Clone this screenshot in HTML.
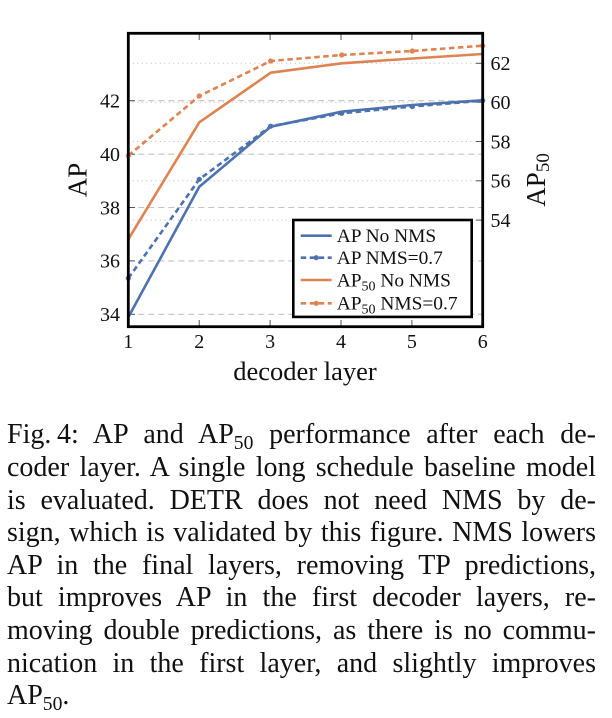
<!DOCTYPE html>
<html>
<head>
<meta charset="utf-8">
<style>
html,body{margin:0;padding:0;background:#fff;}
body{width:612px;height:718px;position:relative;overflow:hidden;font-family:"Liberation Serif",serif;color:#111;}
svg{position:absolute;left:0;top:0;}
.cap{position:absolute;left:7px;width:589px;font-size:28px;line-height:32.6px;height:32.6px;text-align:justify;text-align-last:justify;white-space:normal;}
.cap.last{text-align:left;text-align-last:left;}
.sub{font-size:0.7em;position:relative;top:0.28em;line-height:0;}
</style>
</head>
<body>
<svg width="612" height="400" viewBox="0 0 612 400" xmlns="http://www.w3.org/2000/svg" font-family="Liberation Serif, serif">
  <!-- grid: dashed at left ticks -->
  <g stroke="#c4c4c4" stroke-width="1.1" stroke-dasharray="6 4" fill="none">
    <line x1="128.3" y1="100.7" x2="482.7" y2="100.7"/>
    <line x1="128.3" y1="154.2" x2="482.7" y2="154.2"/>
    <line x1="128.3" y1="207.5" x2="482.7" y2="207.5"/>
    <line x1="128.3" y1="260.9" x2="482.7" y2="260.9"/>
    <line x1="128.3" y1="314.3" x2="482.7" y2="314.3"/>
  </g>
  <!-- grid: dotted at right ticks -->
  <g stroke="#bdbdbd" stroke-width="1" stroke-dasharray="1 3.5" fill="none">
    <line x1="128.3" y1="63.3" x2="482.7" y2="63.3"/>
    <line x1="128.3" y1="102.2" x2="482.7" y2="102.2"/>
    <line x1="128.3" y1="141.5" x2="482.7" y2="141.5"/>
    <line x1="128.3" y1="180.8" x2="482.7" y2="180.8"/>
    <line x1="128.3" y1="220.1" x2="482.7" y2="220.1"/>
  </g>
  <!-- ticks -->
  <g stroke="#555" stroke-width="1" fill="none">
    <line x1="199.2" y1="33.3" x2="199.2" y2="40"/>
    <line x1="270.1" y1="33.3" x2="270.1" y2="40"/>
    <line x1="341" y1="33.3" x2="341" y2="40"/>
    <line x1="411.9" y1="33.3" x2="411.9" y2="40"/>
    <line x1="199.2" y1="326.7" x2="199.2" y2="320"/>
    <line x1="270.1" y1="326.7" x2="270.1" y2="320"/>
    <line x1="341" y1="326.7" x2="341" y2="320"/>
    <line x1="411.9" y1="326.7" x2="411.9" y2="320"/>
    <line x1="128.3" y1="100.7" x2="135" y2="100.7"/>
    <line x1="128.3" y1="154.2" x2="135" y2="154.2"/>
    <line x1="128.3" y1="207.5" x2="135" y2="207.5"/>
    <line x1="128.3" y1="260.9" x2="135" y2="260.9"/>
    <line x1="128.3" y1="314.3" x2="135" y2="314.3"/>
    <line x1="482.7" y1="63.3" x2="476" y2="63.3"/>
    <line x1="482.7" y1="102.2" x2="476" y2="102.2"/>
    <line x1="482.7" y1="141.5" x2="476" y2="141.5"/>
    <line x1="482.7" y1="180.8" x2="476" y2="180.8"/>
    <line x1="482.7" y1="220.1" x2="476" y2="220.1"/>
  </g>
  <!-- series -->
  <g fill="none" stroke-width="2.6" stroke-linejoin="round">
    <polyline stroke="#4c72b0" points="128.3,317.3 199.3,186.7 270.7,126.7 341.7,111.7 412.3,105 482.7,100.3"/>
    <polyline stroke="#4c72b0" stroke-dasharray="5.5 3.5" points="128.3,278.3 199.3,179.3 270.7,126.2 341.7,113.3 412.3,106.5 482.7,100.6"/>
    <polyline stroke="#dd8452" points="128.3,239.3 199.3,122.3 270.7,72.7 341.7,63.3 412.3,58.5 482.7,54"/>
    <polyline stroke="#dd8452" stroke-dasharray="5.5 3.5" points="128.3,155.7 199.3,96 270.7,61 341.7,55 412.3,51 482.7,45.7"/>
  </g>
  <g fill="#4c72b0">
    <circle cx="128.3" cy="278.3" r="2.6"/><circle cx="199.3" cy="179.3" r="2.6"/><circle cx="270.7" cy="126.2" r="2.6"/>
    <circle cx="341.7" cy="113.3" r="2.6"/><circle cx="412.3" cy="106.5" r="2.6"/><circle cx="482.7" cy="100.6" r="2.6"/>
  </g>
  <g fill="#dd8452">
    <circle cx="128.3" cy="155.7" r="2.6"/><circle cx="199.3" cy="96" r="2.6"/><circle cx="270.7" cy="61" r="2.6"/>
    <circle cx="341.7" cy="55" r="2.6"/><circle cx="412.3" cy="51" r="2.6"/><circle cx="482.7" cy="45.7" r="2.6"/>
  </g>
  <!-- frame -->
  <rect x="128.3" y="33.3" width="354.4" height="293.4" fill="none" stroke="#000" stroke-width="2.8"/>
  <!-- left tick labels -->
  <g font-size="20" fill="#111" text-anchor="end">
    <text x="120" y="107.5">42</text>
    <text x="120" y="161">40</text>
    <text x="120" y="214.3">38</text>
    <text x="120" y="267.7">36</text>
    <text x="120" y="321.1">34</text>
  </g>
  <!-- right tick labels -->
  <g font-size="20" fill="#111" text-anchor="start">
    <text x="490.5" y="70.1">62</text>
    <text x="490.5" y="109">60</text>
    <text x="490.5" y="148.3">58</text>
    <text x="490.5" y="187.6">56</text>
    <text x="490.5" y="226.9">54</text>
  </g>
  <!-- x tick labels -->
  <g font-size="20" fill="#111" text-anchor="middle">
    <text x="128.3" y="348">1</text>
    <text x="199.2" y="348">2</text>
    <text x="270.1" y="348">3</text>
    <text x="341" y="348">4</text>
    <text x="411.9" y="348">5</text>
    <text x="482.7" y="348">6</text>
  </g>
  <!-- axis labels -->
  <text x="305" y="380" font-size="26.5" text-anchor="middle" fill="#111">decoder layer</text>
  <text transform="translate(86.7,180) rotate(-90)" font-size="27" text-anchor="middle" fill="#111">AP</text>
  <text transform="translate(545,206.7) rotate(-90)" font-size="27" fill="#111">AP<tspan font-size="19" dy="4">50</tspan></text>
  <!-- legend -->
  <rect x="293.3" y="220" width="178.4" height="96.9" fill="#fff" stroke="#000" stroke-width="2.6"/>
  <g stroke-width="2.6">
    <line x1="300.7" y1="235.7" x2="331.7" y2="235.7" stroke="#4c72b0"/>
    <line x1="300.7" y1="257.7" x2="331.7" y2="257.7" stroke="#4c72b0" stroke-dasharray="5.5 3.5"/>
    <line x1="300.7" y1="280" x2="331.7" y2="280" stroke="#dd8452"/>
    <line x1="300.7" y1="303.3" x2="331.7" y2="303.3" stroke="#dd8452" stroke-dasharray="5.5 3.5"/>
  </g>
  <circle cx="316.2" cy="257.7" r="2.6" fill="#4c72b0"/>
  <circle cx="316.2" cy="303.3" r="2.6" fill="#dd8452"/>
  <g font-size="19.4" fill="#111">
    <text x="336.7" y="242">AP No NMS</text>
    <text x="336.7" y="264">AP NMS=0.7</text>
    <text x="336.7" y="286.3">AP<tspan font-size="14" dy="4">50</tspan><tspan dy="-4"> No NMS</tspan></text>
    <text x="336.7" y="309.6">AP<tspan font-size="14" dy="4">50</tspan><tspan dy="-4"> NMS=0.7</tspan></text>
  </g>
</svg>

<div class="cap" style="top:419.3px;">Fig.&#8201;4: AP and AP<span class="sub">50</span> performance after each de-</div>
<div class="cap" style="top:451.9px;">coder layer. A single long schedule baseline model</div>
<div class="cap" style="top:484.5px;">is evaluated. DETR does not need NMS by de-</div>
<div class="cap" style="top:517.1px;">sign, which is validated by this figure. NMS lowers</div>
<div class="cap" style="top:549.7px;">AP in the final layers, removing TP predictions,</div>
<div class="cap" style="top:582.3px;">but improves AP in the first decoder layers, re-</div>
<div class="cap" style="top:614.9px;">moving double predictions, as there is no commu-</div>
<div class="cap" style="top:647.5px;">nication in the first layer, and slightly improves</div>
<div class="cap last" style="top:680.1px;">AP<span class="sub">50</span>.</div>
</body>
</html>
